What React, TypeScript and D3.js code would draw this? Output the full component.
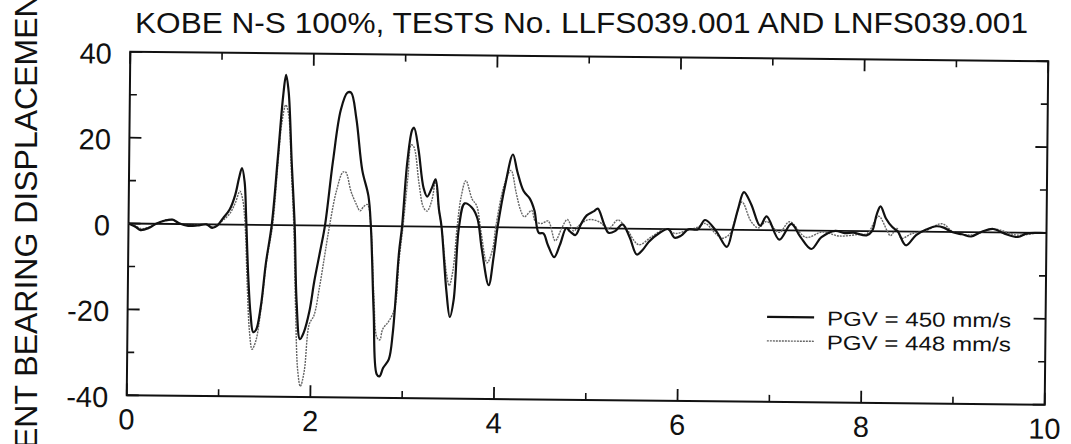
import React from "react";
import * as d3 from "d3";

// Time (s) and bearing displacement (mm) for test LLFS039.001 (PGV = 450 mm/s)
const timeA: number[] = [
  0, 0.08, 0.13, 0.22, 0.3, 0.4, 0.48, 0.55, 0.65, 0.75, 0.85, 0.91, 0.97, 1.03, 1.1, 1.16, 1.2, 1.23, 1.26, 1.28,
  1.31, 1.34, 1.37, 1.4, 1.45, 1.5, 1.56, 1.62, 1.67, 1.7, 1.73, 1.77, 1.81, 1.84, 1.88, 1.92, 1.98, 2.03, 2.09, 2.14,
  2.22, 2.3, 2.37, 2.41, 2.47, 2.54, 2.61, 2.64, 2.68, 2.72, 2.75, 2.79, 2.85, 2.89, 2.95, 2.98, 3.03, 3.08, 3.1, 3.15,
  3.21, 3.25, 3.3, 3.34, 3.38, 3.41, 3.47, 3.51, 3.55, 3.6, 3.66, 3.74, 3.8, 3.85, 3.93, 3.98, 4.02, 4.1, 4.18, 4.23,
  4.3, 4.37, 4.42, 4.47, 4.52, 4.57, 4.64, 4.7, 4.77, 4.81, 4.87, 4.93, 4.99, 5.07, 5.11, 5.18, 5.23, 5.3, 5.38, 5.46,
  5.54, 5.6, 5.67, 5.78, 5.88, 5.95, 6.02, 6.1, 6.2, 6.28, 6.4, 6.52, 6.58, 6.64, 6.7, 6.78, 6.88, 6.95, 7.09, 7.22,
  7.32, 7.44, 7.55, 7.7, 7.8, 7.9, 8.04, 8.1, 8.15, 8.19, 8.25, 8.32, 8.38, 8.47, 8.58, 8.69, 8.8, 8.88, 8.97, 9.08,
  9.18, 9.3, 9.42, 9.55, 9.69, 9.78, 9.9, 10,
];
const dispA: number[] = [
  0, -0.8, -1.5, -1.0, 0, 0.8, 1.0, 0.2, -0.4, -0.3, 0, -0.8, -0.2, 1.5, 3.5, 7, 11, 13.2, 10, 2,
  -12, -21, -25, -24.5, -19, -9, 0, 16, 30, 35, 31, 15, 0, -18, -26.5, -25, -20, -13, -6, 0,
  15, 27, 31, 31, 25, 13, 7, 0, -20, -34.5, -35, -33, -31, -25, -6, 0, 15, 22.5, 23, 18,
  9, 7, 9, 11, 4, 0, -15, -21, -17, 0, 5.5, 4.5, 2, -5, -13.5, -7, 0, 10, 17, 13,
  8.5, 6.7, 4, -1.2, -1.3, -4, -6.8, -4, 0, -0.8, -1.6, 1, 3, 4, 4.6, 1, -1, -0.6, 1, -2,
  -6, -5, -3, -1, 0, -2, -1.5, 0, 0, 2.2, -0.3, -4, 0, 5, 8.8, 6, 1, 3.2, -2.2, 1.5,
  -1.5, -4.3, -1.5, 0, -0.5, -0.4, -1.0, 0, 4, 5.8, 3, 1, 0, -3.2, -0.8, 0.5, 1.3, 1, 0, -0.5,
  -1, 0.2, 0.8, -0.3, -1, -0.2, 0, 0,
];

// Time (s) and bearing displacement (mm) for test LNFS039.001 (PGV = 448 mm/s)
const timeB: number[] = [
  0, 0.08, 0.14, 0.22, 0.3, 0.4, 0.48, 0.55, 0.65, 0.75, 0.85, 0.91, 0.97, 1.03, 1.1, 1.16, 1.21, 1.24, 1.27, 1.3,
  1.33, 1.36, 1.4, 1.45, 1.51, 1.57, 1.62, 1.66, 1.7, 1.73, 1.77, 1.8, 1.83, 1.86, 1.89, 1.93, 1.98, 2.03, 2.09, 2.14,
  2.19, 2.26, 2.33, 2.36, 2.42, 2.48, 2.52, 2.56, 2.6, 2.64, 2.68, 2.72, 2.75, 2.78, 2.85, 2.91, 2.95, 2.99, 3.04, 3.07,
  3.1, 3.16, 3.21, 3.25, 3.3, 3.34, 3.38, 3.41, 3.47, 3.5, 3.54, 3.58, 3.62, 3.67, 3.74, 3.79, 3.84, 3.91, 3.97, 4.0,
  4.09, 4.16, 4.22, 4.27, 4.31, 4.39, 4.43, 4.5, 4.57, 4.65, 4.72, 4.78, 4.85, 4.9, 5.01, 5.12, 5.23, 5.33, 5.41, 5.56,
  5.7, 5.85, 5.96, 6.08, 6.2, 6.28, 6.4, 6.47, 6.55, 6.6, 6.68, 6.78, 6.86, 6.95, 7.09, 7.2, 7.38, 7.56, 7.74, 7.95,
  8.05, 8.17, 8.26, 8.3, 8.37, 8.42, 8.53, 8.69, 8.86, 8.99, 9.2, 9.42, 9.69, 9.9, 10,
];
const dispB: number[] = [
  0, -0.6, -1.2, -0.8, 0, 0.9, 1.0, 0.2, -0.3, -0.2, 0, -0.6, -0.1, 1.0, 2.5, 5, 7.8, 6, 0, -14,
  -25, -29, -27, -20, -8, 0, 14, 24, 28, 26, 12, 0, -20, -34, -37.5, -34, -23, -21, -14, -7,
  0, 8, 12.5, 12.5, 8, 5, 3.5, 4.5, 5, 0, -16, -26, -26.5, -24, -22, -19, -8, 0, 12, 19,
  18.5, 10, 4.5, 3.6, 6, 10.5, 4, 0, -11, -13.7, -10, 0, 7, 10.8, 6.5, 5, -1, -8.3, -5, 0,
  10, 13.3, 8, 4, 2.5, 4, 1.5, 1, 1.6, -3, 0, 2, -0.7, 0.5, 2, 1.6, 0, 2, 0.5, -3.7,
  -1.8, 0, -1, -0.3, 0.5, 1.4, -1, -2, -1, 1.9, 6.5, 2, 0.5, 2, -0.5, 2, -1.6, -0.3, -1.2, -0.8,
  -0.5, 3.5, 0.3, -1, 0.7, -1.6, -0.5, 0.3, 1.9, 0, -0.6, 0.8, -0.6, 0, 0,
];

const xTicks: number[] = [0, 2, 4, 6, 8, 10];
const xMinorTicks: number[] = [1, 3, 5, 7, 9];
const yTicks: number[] = [-40, -20, 0, 20, 40];
const yMinorTicks: number[] = [-30, -10, 10, 30];
const legendLabels: string[] = ["PGV = 450 mm/s", "PGV = 448 mm/s"];

const W = 1071;
const H = 444;
const plot = { left: 128.5, right: 1046.5, top: 56.5, bottom: 400 };
const tilt = 0.59;
const font = "'Liberation Sans', Arial, Helvetica, sans-serif";

export default function App() {
  const x = d3.scaleLinear().domain([0, 10]).range([plot.left, plot.right]);
  const y = d3.scaleLinear().domain([-40, 40]).range([plot.bottom, plot.top]);

  const line = d3
    .line<[number, number]>()
    .x((d) => x(d[0]))
    .y((d) => y(d[1]))
    .curve(d3.curveCatmullRom.alpha(0.5));

  const seriesA = timeA.map((t, i) => [t, dispA[i]] as [number, number]);
  const seriesB = timeB.map((t, i) => [t, dispB[i]] as [number, number]);

  const cx = (plot.left + plot.right) / 2;
  const cy = (plot.top + plot.bottom) / 2;

  const major = 12;
  const minor = 7;

  return (
    <svg
      width={W}
      height={H}
      viewBox={`0 0 ${W} ${H}`}
      style={{ position: "absolute", left: 0, top: 0, background: "#fff" }}
      fontFamily={font}
    >
      <rect width={W} height={H} fill="#fff" />

      {/* title */}
      <text x={135} y={33} fontSize={30} textLength={893} lengthAdjust="spacingAndGlyphs" fill="#111">
        KOBE N-S 100%, TESTS No. LLFS039.001 AND LNFS039.001
      </text>

      {/* vertical axis title, running past the page edges */}
      <text transform={`translate(37, 561) rotate(-90)`} fontSize={32} fill="#111">
        ABUTMENT BEARING DISPLACEMENT (mm)
      </text>

      <g transform={`rotate(${tilt}, ${cx}, ${cy})`}>
        {/* frame */}
        <rect
          x={plot.left}
          y={plot.top}
          width={plot.right - plot.left}
          height={plot.bottom - plot.top}
          fill="none"
          stroke="#111"
          strokeWidth={2}
        />

        {/* zero line */}
        <line x1={plot.left} x2={plot.right} y1={y(0)} y2={y(0)} stroke="#111" strokeWidth={1.8} />

        {/* x ticks */}
        {xTicks.map((t) => (
          <g key={`xt${t}`}>
            <line x1={x(t)} x2={x(t)} y1={plot.bottom} y2={plot.bottom - major} stroke="#111" strokeWidth={1.8} />
            <line x1={x(t)} x2={x(t)} y1={plot.top} y2={plot.top + major} stroke="#111" strokeWidth={1.8} />
            <text x={x(t)} y={plot.bottom + 34} fontSize={29} textAnchor="middle" fill="#111">
              {t}
            </text>
          </g>
        ))}
        {xMinorTicks.map((t) => (
          <g key={`xm${t}`}>
            <line x1={x(t)} x2={x(t)} y1={plot.bottom} y2={plot.bottom - minor} stroke="#111" strokeWidth={1.6} />
            <line x1={x(t)} x2={x(t)} y1={plot.top} y2={plot.top + minor} stroke="#111" strokeWidth={1.6} />
          </g>
        ))}

        {/* y ticks */}
        {yTicks.map((v) => (
          <g key={`yt${v}`}>
            <line x1={plot.left} x2={plot.left + major} y1={y(v)} y2={y(v)} stroke="#111" strokeWidth={1.8} />
            <line x1={plot.right} x2={plot.right - major} y1={y(v)} y2={y(v)} stroke="#111" strokeWidth={1.8} />
            <text x={110} y={y(v) + 12} fontSize={29} textAnchor="end" fill="#111">
              {v}
            </text>
          </g>
        ))}
        {yMinorTicks.map((v) => (
          <g key={`ym${v}`}>
            <line x1={plot.left} x2={plot.left + minor} y1={y(v)} y2={y(v)} stroke="#111" strokeWidth={1.6} />
            <line x1={plot.right} x2={plot.right - minor} y1={y(v)} y2={y(v)} stroke="#111" strokeWidth={1.6} />
          </g>
        ))}

        {/* response histories */}
        <path
          d={line(seriesB) ?? ""}
          fill="none"
          stroke="#666"
          strokeWidth={1.4}
          strokeDasharray="2 1"
          strokeLinejoin="round"
        />
        <path d={line(seriesA) ?? ""} fill="none" stroke="#111" strokeWidth={2.2} strokeLinejoin="round" />

        {/* legend */}
        <g>
          <line x1={768} x2={815} y1={315} y2={315} stroke="#111" strokeWidth={2.2} />
          <text x={828} y={323} fontSize={20} textLength={184} lengthAdjust="spacingAndGlyphs" fill="#111">
            {legendLabels[0]}
          </text>
          <line x1={768} x2={815} y1={339} y2={339} stroke="#666" strokeWidth={1.4} strokeDasharray="2 1" />
          <text x={828} y={347} fontSize={20} textLength={184} lengthAdjust="spacingAndGlyphs" fill="#111">
            {legendLabels[1]}
          </text>
        </g>
      </g>
    </svg>
  );
}
